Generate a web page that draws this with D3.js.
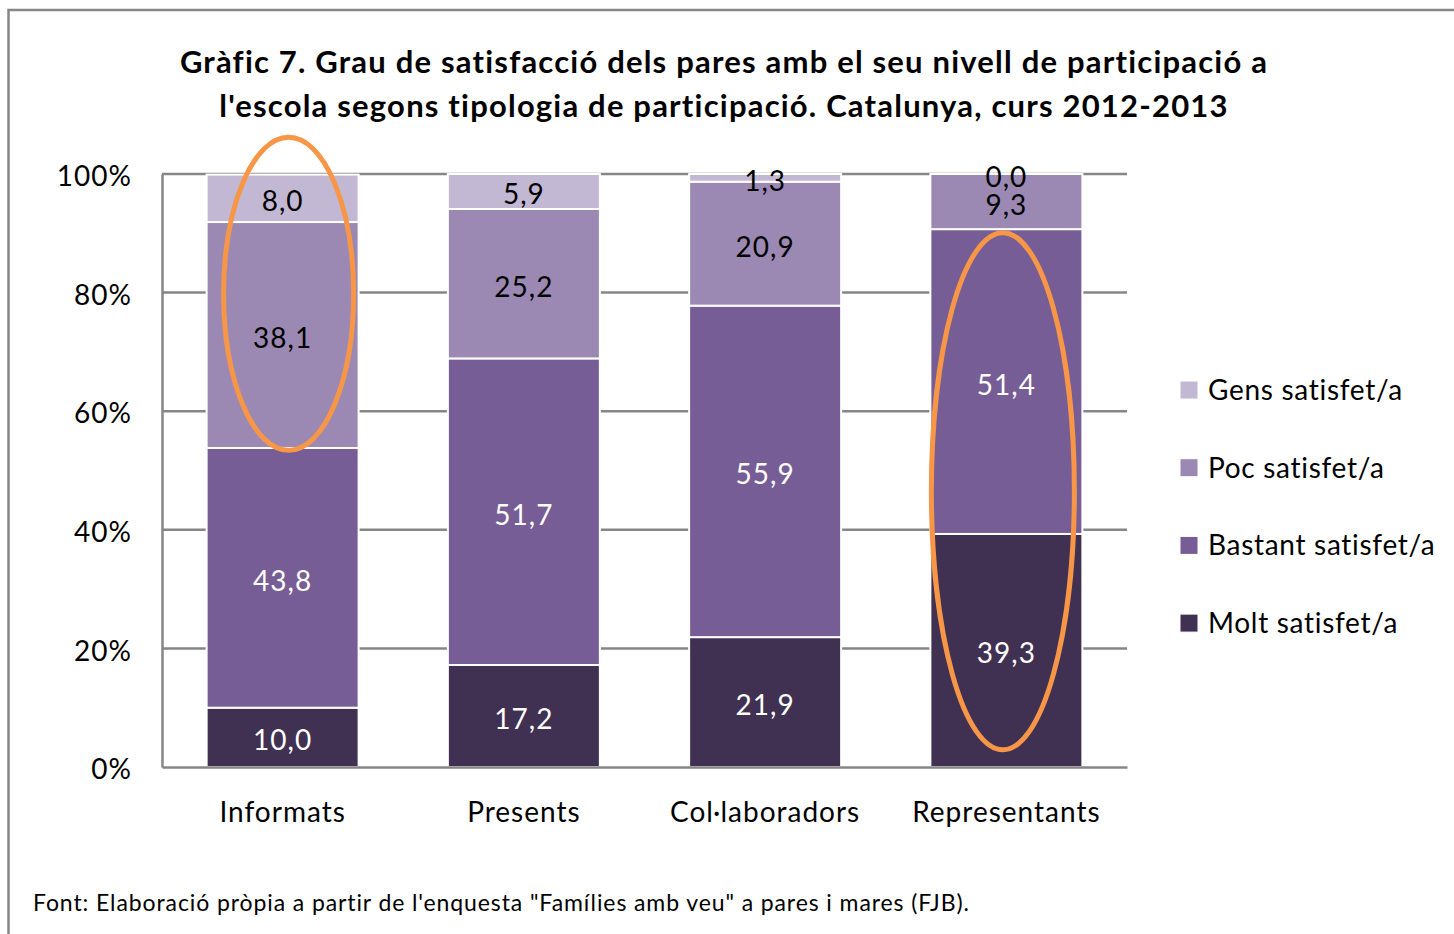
<!DOCTYPE html>
<html>
<head>
<meta charset="utf-8">
<script src="https://cdn.jsdelivr.net/npm/d3@7"></script>
<style>
  body { margin: 0; background: #fff; }
  text { font-family: Lato, "Open Sans", sans-serif; }
</style>
</head>
<body>
<div id="chart-area"></div>
<script>
// Categories and series (percent of parents)
let categories = ['Informats', 'Presents', 'Col·laboradors', 'Representants'];
let seriesNames = ['Molt satisfet/a', 'Bastant satisfet/a', 'Poc satisfet/a', 'Gens satisfet/a'];
let molt    = [10.0, 17.2, 21.9, 39.3];
let bastant = [43.8, 51.7, 55.9, 51.4];
let poc     = [38.1, 25.2, 20.9, 9.3];
let gens    = [8.0, 5.9, 1.3, 0.0];
let yTicks  = [0, 20, 40, 60, 80, 100];
let titleLines = [
    'Gràfic 7. Grau de satisfacció dels pares amb el seu nivell de participació a',
    "l'escola segons tipologia de participació. Catalunya, curs 2012-2013"
];
let sourceNote = 'Font: Elaboració pròpia a partir de l\'enquesta "Famílies amb veu" a pares i mares (FJB).';
// Orange highlight rings: category, centre and half-height in % units
let highlightCats = ['Informats', 'Representants'];
let highlightMid  = [79.8, 46.5];
let highlightHalf = [26.4, 43.6];

let svgWidth = 1454;
let svgHeight = 934;
let colors = ['#403152', '#775d96', '#9b89b3', '#c3b8d4'];
let labelColors = ['#fff', '#fff', '#000', '#000'];

let svg = d3.select('#chart-area')
    .append('svg')
        .attr('width', svgWidth)
        .attr('height', svgHeight);

// Outer frame (runs off the right and bottom edges)
svg.append('rect')
    .attr('x', 8.5)
    .attr('y', 10)
    .attr('width', svgWidth + 20)
    .attr('height', svgHeight + 20)
    .attr('fill', 'none')
    .attr('stroke', '#868686')
    .attr('stroke-width', 2.5);

// Title
titleLines.forEach(function(line, i) {
    svg.append('text')
        .attr('x', 724)
        .attr('y', 73 + i * 44)
        .attr('text-anchor', 'middle')
        .attr('font-size', '31px')
        .attr('font-weight', 'bold')
        .attr('letter-spacing', '1.2px')
        .text(line);
});

// Scales
let plotLeft = 162, plotRight = 1127, plotTop = 174, plotBottom = 767;
let x = d3.scaleBand()
    .domain(categories)
    .range([plotLeft, plotRight])
    .paddingInner(0.37)
    .paddingOuter(0.185);
let y = d3.scaleLinear()
    .domain([0, 100])
    .range([plotBottom, plotTop]);

// Gridlines
svg.append('g')
    .selectAll('line')
    .data(yTicks.filter(function(d) { return d > 0; }))
    .enter()
    .append('line')
        .attr('x1', plotLeft)
        .attr('x2', plotRight)
        .attr('y1', function(d) { return y(d); })
        .attr('y2', function(d) { return y(d); })
        .attr('stroke', '#868686')
        .attr('stroke-width', 2.5);

// Stack the series
let table = categories.map(function(c, i) {
    return { cat: c, s0: molt[i], s1: bastant[i], s2: poc[i], s3: gens[i] };
});
let stacked = d3.stack().keys(['s0', 's1', 's2', 's3'])(table);

let layers = svg.append('g')
    .selectAll('g')
    .data(stacked)
    .enter()
    .append('g')
        .attr('fill', function(d, i) { return colors[i]; });

layers.selectAll('rect')
    .data(function(d) { return d; })
    .enter()
    .append('rect')
        .attr('x', function(d) { return x(d.data.cat); })
        .attr('y', function(d) { return y(d[1]); })
        .attr('width', x.bandwidth())
        .attr('height', function(d) { return y(d[0]) - y(d[1]); })
        .attr('stroke', '#fff')
        .attr('stroke-width', 2);

// Data labels
stacked.forEach(function(layer, si) {
    svg.append('g')
        .selectAll('text')
        .data(layer)
        .enter()
        .append('text')
            .attr('x', function(d) { return x(d.data.cat) + x.bandwidth() / 2; })
            .attr('y', function(d) { return y((d[0] + d[1]) / 2) + 13; })
            .attr('text-anchor', 'middle')
            .attr('font-size', '28px')
            .attr('letter-spacing', '1px')
            .attr('fill', labelColors[si])
            .text(function(d) { return d3.format('.1f')(d[1] - d[0]).replace('.', ','); });
});

// Axes
let yAxisCall = d3.axisLeft(y)
    .tickValues(yTicks)
    .tickSize(0)
    .tickPadding(30)
    .tickFormat(function(d) { return d + '%'; });
let yAxis = svg.append('g')
    .attr('transform', 'translate(' + plotLeft + ',0)')
    .call(yAxisCall);
yAxis.select('.domain').attr('stroke', '#868686').attr('stroke-width', 2.5);
yAxis.selectAll('text')
    .attr('font-size', '28px')
    .attr('letter-spacing', '1px')
    .attr('dy', '0.42em')
    .attr('fill', '#000')
    .attr('font-family', 'Lato, sans-serif');

let xAxisCall = d3.axisBottom(x)
    .tickSize(0)
    .tickPadding(35);
let xAxis = svg.append('g')
    .attr('transform', 'translate(0,' + plotBottom + ')')
    .call(xAxisCall);
xAxis.select('.domain').attr('stroke', '#868686').attr('stroke-width', 2.5);
xAxis.selectAll('text')
    .attr('font-size', '28px')
    .attr('letter-spacing', '1px')
    .attr('fill', '#000')
    .attr('font-family', 'Lato, sans-serif');

// Highlight ellipses
let ringRx = [65, 71.5];
let ringDx = [6, -3.5];
highlightCats.forEach(function(c, i) {
    svg.append('ellipse')
        .attr('cx', x(c) + x.bandwidth() / 2 + ringDx[i])
        .attr('cy', y(highlightMid[i]))
        .attr('rx', ringRx[i])
        .attr('ry', y(0) - y(highlightHalf[i]))
        .attr('fill', 'none')
        .attr('stroke', '#f79646')
        .attr('stroke-width', 5);
});

// Legend (top entry is the last series)
let legend = svg.append('g')
    .attr('transform', 'translate(1180, 390)');
seriesNames.slice().reverse().forEach(function(name, i) {
    let row = legend.append('g')
        .attr('transform', 'translate(0,' + (i * 77.7) + ')');
    row.append('rect')
        .attr('x', 0)
        .attr('y', -9)
        .attr('width', 18)
        .attr('height', 18)
        .attr('fill', colors[3 - i])
        .attr('stroke', '#fff')
        .attr('stroke-width', 1);
    row.append('text')
        .attr('x', 28)
        .attr('y', 10)
        .attr('font-size', '28px')
        .attr('letter-spacing', '0.7px')
        .text(name);
});

// Source note
svg.append('text')
    .attr('x', 33)
    .attr('y', 911)
    .attr('font-size', '23px')
    .attr('letter-spacing', '0.9px')
    .text(sourceNote);
</script>
</body>
</html>
